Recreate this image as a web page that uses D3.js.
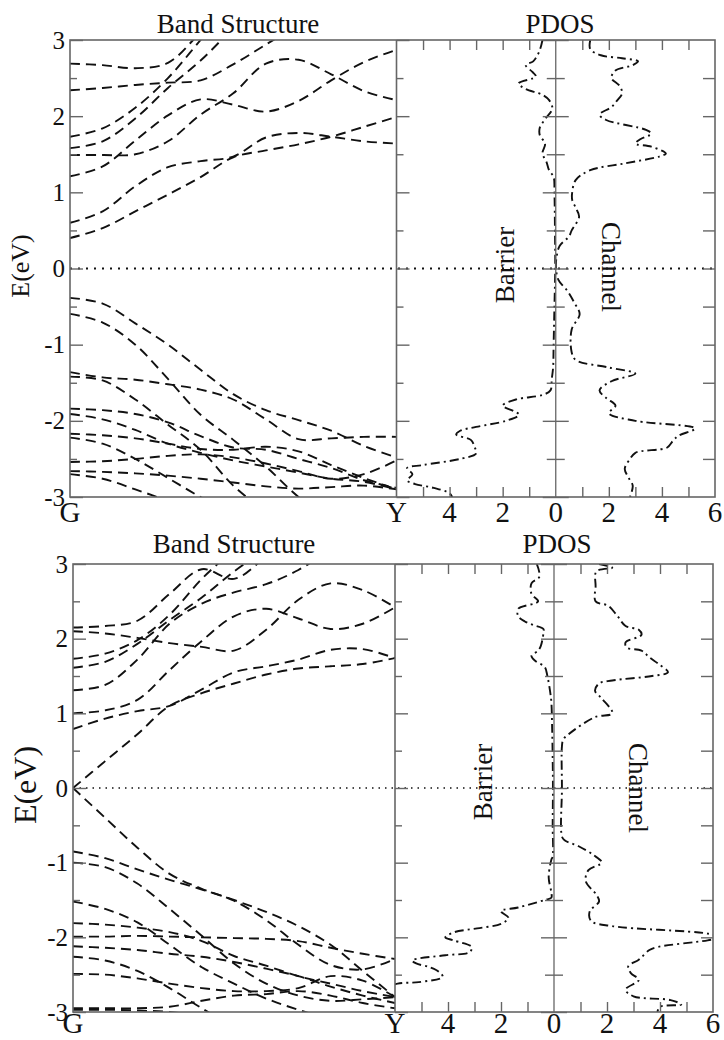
<!DOCTYPE html>
<html>
<head>
<meta charset="utf-8">
<title>Band Structure and PDOS</title>
<style>
  body{margin:0;background:#fff;}
  svg text{font-family:"Liberation Serif","DejaVu Serif","Times New Roman",serif !important;}
</style>
</head>
<body>
<div id="chart"></div>
<script src="https://d3js.org/d3.v7.min.js"></script>
<script>
// k points along G -> Y
const kGrid = [0, 0.1, 0.2, 0.3, 0.4, 0.5, 0.6, 0.7, 0.8, 0.9, 1.0];

// energies (eV) of each band at the k points, upper figure
const topBands = [
  [0.40, 0.53, 0.75, 0.97, 1.20, 1.46, 1.55, 1.63, 1.73, 1.86, 1.99],
  [0.60, 0.75, 1.08, 1.33, 1.41, 1.47, 1.72, 1.78, 1.73, 1.67, 1.64],
  [1.21, 1.34, 1.68, 2.01, 2.22, 2.15, 2.06, 2.20, 2.47, 2.71, 2.87],
  [1.49, 1.49, 1.50, 1.67, 2.02, 2.30, 2.69, 2.74, 2.55, 2.33, 2.21],
  [1.58, 1.67, 1.97, 2.37, 2.73, 3.15, 3.50],
  [1.73, 1.84, 2.11, 2.50, 3.00, 3.50],
  [2.34, 2.37, 2.41, 2.44, 2.47, 2.68, 2.94, 3.20],
  [2.69, 2.67, 2.63, 2.70, 3.10, 3.50],
  [-0.385, -0.46, -0.72, -1.00, -1.33, -1.65, -1.86, -1.99, -2.13, -2.33, -2.48],
  [-0.595, -0.71, -1.00, -1.45, -1.92, -2.25, -2.60, -3.00, -3.30],
  [-1.36, -1.43, -1.46, -1.52, -1.59, -1.72, -1.98, -2.24, -2.23, -2.21, -2.21],
  [-1.42, -1.47, -1.72, -2.05, -2.38, -2.85, -3.20],
  [-1.84, -1.86, -1.91, -2.02, -2.20, -2.35, -2.38, -2.50, -2.62, -2.78, -2.88],
  [-1.91, -1.98, -2.12, -2.30, -2.42, -2.52, -2.60, -2.68, -2.76, -2.80, -2.90],
  [-2.17, -2.19, -2.23, -2.30, -2.37, -2.38, -2.34, -2.40, -2.58, -2.75, -2.90],
  [-2.22, -2.30, -2.50, -2.75, -3.00, -3.20],
  [-2.54, -2.53, -2.50, -2.46, -2.44, -2.48, -2.56, -2.66, -2.76, -2.70, -2.52],
  [-2.66, -2.67, -2.69, -2.72, -2.76, -2.81, -2.86, -2.89, -2.87, -2.85, -2.90],
  [-2.70, -2.76, -2.90, -3.05, -3.20]
];

// lower figure
const bottomBands = [
  [0.00, 0.36, 0.72, 1.10, 1.27, 1.40, 1.52, 1.60, 1.63, 1.66, 1.74],
  [0.79, 0.93, 1.03, 1.10, 1.32, 1.55, 1.63, 1.72, 1.85, 1.86, 1.74],
  [1.00, 1.04, 1.18, 1.58, 1.97, 2.30, 2.40, 2.27, 2.13, 2.20, 2.42],
  [2.10, 2.07, 2.01, 1.94, 1.89, 1.84, 2.12, 2.52, 2.74, 2.65, 2.42],
  [2.15, 2.17, 2.24, 2.60, 2.93, 2.80, 3.10, 3.40],
  [1.73, 1.80, 1.98, 2.32, 2.80, 3.20, 3.60],
  [1.61, 1.69, 1.93, 2.25, 2.55, 2.90, 3.20],
  [1.31, 1.38, 1.72, 2.20, 2.47, 2.62, 2.73, 2.92, 3.20, 3.50],
  [0.00, -0.40, -0.80, -1.15, -1.35, -1.50, -1.66, -1.85, -2.10, -2.45, -2.80],
  [-0.85, -0.94, -1.09, -1.23, -1.36, -1.51, -1.77, -2.10, -2.37, -2.43, -2.29],
  [-1.00, -1.06, -1.28, -1.62, -1.98, -2.35, -2.62, -2.78, -2.85, -2.83, -2.80],
  [-1.52, -1.62, -1.80, -2.10, -2.40, -2.62, -2.82, -2.97, -3.10, -3.20],
  [-1.81, -1.83, -1.87, -1.93, -2.05, -2.25, -2.38, -2.52, -2.62, -2.72, -2.80],
  [-1.99, -1.99, -1.98, -1.99, -2.00, -2.01, -2.02, -2.05, -2.14, -2.22, -2.29],
  [-2.12, -2.14, -2.17, -2.22, -2.26, -2.33, -2.42, -2.52, -2.66, -2.78, -2.88],
  [-2.26, -2.31, -2.45, -2.68, -2.95, -3.20],
  [-2.49, -2.50, -2.55, -2.62, -2.68, -2.72, -2.72, -2.68, -2.52, -2.58, -2.80],
  [-2.95, -2.95, -2.95, -2.93, -2.85, -2.78, -2.76, -2.72, -2.78, -2.88, -2.95],
  [-2.97, -2.97, -2.98, -3.00, -3.05, -3.10]
];

// PDOS, pairs of [E (eV), states]
const topBarrier = [[3.0,0.5],[2.85,0.62],[2.72,0.85],[2.67,1.13],[2.58,0.88],[2.52,0.75],[2.43,1.4],[2.36,1.15],
  [2.28,0.5],[2.21,0.25],[2.1,0.13],[1.97,0.38],[1.85,0.6],[1.75,0.6],[1.64,0.4],[1.51,0.5],[1.4,0.35],[1.29,0.25],
  [1.2,0.08],[1.0,0.05],[0.5,0.03],[0,0.02],[-0.5,0.05],[-1.0,0.08],[-1.3,0.1],[-1.45,0.15],[-1.6,0.2],[-1.66,0.5],
  [-1.72,1.5],[-1.8,2.0],[-1.87,1.6],[-1.92,1.38],[-2.0,1.88],[-2.08,3.0],[-2.13,3.6],[-2.18,3.75],[-2.25,3.2],
  [-2.35,3.05],[-2.43,3.0],[-2.5,3.6],[-2.58,5.0],[-2.62,5.6],[-2.7,5.4],[-2.78,5.6],[-2.83,5.3],[-2.88,4.6],
  [-2.95,4.0],[-3.0,3.9]];
const topChannel = [[3.0,1.3],[2.88,1.3],[2.8,1.7],[2.76,2.5],[2.72,3.1],[2.67,2.9],[2.6,2.25],[2.5,2.1],[2.4,2.4],
  [2.3,2.5],[2.2,2.3],[2.12,2.1],[2.02,1.65],[1.95,1.9],[1.82,3.4],[1.77,3.6],[1.7,3.2],[1.64,3.0],[1.6,3.6],
  [1.51,4.15],[1.47,3.9],[1.38,2.6],[1.29,1.3],[1.16,0.75],[1.0,0.62],[0.9,0.62],[0.8,0.75],[0.68,0.88],[0.5,0.6],
  [0.42,0.5],[0.3,0.15],[0.15,0.03],[0,0.01],[-0.15,0.1],[-0.3,0.45],[-0.45,0.7],[-0.6,0.9],[-0.8,0.6],[-1.1,0.6],
  [-1.2,0.75],[-1.3,2.0],[-1.38,3.0],[-1.48,2.1],[-1.6,1.65],[-1.7,1.9],[-1.8,2.25],[-1.9,2.0],[-2.0,3.0],
  [-2.1,5.25],[-2.2,4.6],[-2.27,4.4],[-2.35,4.2],[-2.42,3.0],[-2.5,2.8],[-2.63,2.6],[-2.75,2.75],[-2.85,2.9],[-3.0,2.8]];
const bottomBarrier = [[3.0,0.65],[2.83,0.55],[2.74,0.85],[2.6,0.85],[2.5,0.6],[2.4,1.35],[2.3,1.35],[2.23,1.1],
  [2.18,0.77],[2.13,0.4],[2.07,0.4],[1.9,0.5],[1.84,0.6],[1.77,0.85],[1.7,0.7],[1.62,0.35],[1.5,0.25],[1.3,0.15],
  [1.15,0.1],[0.8,0.07],[0.4,0.05],[0,0.04],[-0.5,0.05],[-0.92,0.05],[-0.96,0.1],[-1.2,0.2],[-1.4,0.1],[-1.47,0.1],
  [-1.5,0.35],[-1.6,1.35],[-1.65,2.0],[-1.74,1.72],[-1.82,2.0],[-1.88,2.9],[-1.93,3.75],[-2.0,4.1],[-2.04,3.8],
  [-2.13,3.1],[-2.2,3.2],[-2.24,4.1],[-2.31,5.35],[-2.35,5.2],[-2.4,4.7],[-2.46,4.35],[-2.53,4.2],[-2.6,5.1],
  [-2.62,5.9],[-2.7,6.5],[-3.0,6.5]];
const bottomChannel = [[3.0,1.7],[2.95,2.2],[2.9,1.6],[2.7,1.57],[2.5,1.57],[2.44,2.05],[2.3,2.4],[2.17,2.7],
  [2.12,3.2],[2.05,3.3],[1.95,2.7],[1.88,2.75],[1.84,3.3],[1.75,3.6],[1.66,3.95],[1.55,4.3],[1.5,3.7],[1.44,2.2],
  [1.4,1.7],[1.3,1.55],[1.2,1.8],[1.0,2.2],[0.95,1.55],[0.72,0.55],[0.65,0.35],[0.56,0.3],[0,0.3],[-0.65,0.3],
  [-0.7,0.4],[-0.78,0.93],[-0.9,1.5],[-1.0,1.8],[-1.1,1.3],[-1.25,1.2],[-1.43,1.6],[-1.52,1.7],[-1.65,1.35],
  [-1.78,1.4],[-1.85,2.2],[-1.95,5.8],[-2.0,6.3],[-2.04,5.8],[-2.13,3.9],[-2.17,3.6],[-2.3,3.2],[-2.39,2.8],
  [-2.48,2.9],[-2.57,3.2],[-2.7,2.7],[-2.79,3.0],[-2.84,4.4],[-2.9,4.8],[-2.93,4.0],[-3.0,3.9]];

const eTicks = [-3, -2, -1, 0, 1, 2, 3];
const eMinor = [-2.5, -1.5, -0.5, 0.5, 1.5, 2.5];
const eAll = [-2.5, -2, -1.5, -1, -0.5, 0, 0.5, 1, 1.5, 2, 2.5];
const dosLabels = [-4, -2, 0, 2, 4, 6];
const dosMinor = [-5, -4, -3, -2, -1, 1, 2, 3, 4, 5];

const serif = 'Liberation Serif, DejaVu Serif, Times New Roman, serif';
const svg = d3.select('#chart').append('svg').attr('width', 724).attr('height', 1040)
  .attr('font-family', serif);

function panel(id, bands, barrier, channel, g) {
  var y = d3.scaleLinear().domain([-3, 3]).range([g.y1, g.y0]);
  var kx = d3.scaleLinear().domain([0, 1]).range([g.bx0, g.bx1]);
  var dx = d3.scaleLinear().domain([-6, 6]).range([g.bx1, g.px1]);

  var defs = svg.append('defs');
  defs.append('clipPath').attr('id', id + 'b').append('rect')
    .attr('x', g.bx0).attr('y', g.y0).attr('width', g.bx1 - g.bx0).attr('height', g.y1 - g.y0);
  defs.append('clipPath').attr('id', id + 'p').append('rect')
    .attr('x', g.bx1).attr('y', g.y0).attr('width', g.px1 - g.bx1).attr('height', g.y1 - g.y0);

  // bands
  var bandLine = d3.line().x((d, i) => kx(kGrid[i])).y(d => y(d)).curve(d3.curveCatmullRom.alpha(0.5));
  svg.append('g').attr('clip-path', 'url(#' + id + 'b)')
    .selectAll('path').data(bands).enter().append('path')
    .attr('d', bandLine).attr('fill', 'none').attr('stroke', '#111')
    .attr('stroke-width', 1.9).attr('stroke-dasharray', '10,6');

  // pdos
  var pg = svg.append('g').attr('clip-path', 'url(#' + id + 'p)');
  [[barrier, -1], [channel, 1]].forEach(function (s) {
    pg.append('path').datum(s[0])
      .attr('d', d3.line().x(d => dx(s[1] * d[1])).y(d => y(d[0])).curve(d3.curveCatmullRom))
      .attr('fill', 'none').attr('stroke', '#111').attr('stroke-width', 1.9)
      .attr('stroke-dasharray', '9,4,2,4');
  });

  // Fermi level
  svg.append('line').attr('x1', g.bx0).attr('x2', g.px1).attr('y1', y(0)).attr('y2', y(0))
    .attr('stroke', '#111').attr('stroke-width', g.dotW).attr('stroke-dasharray', g.dotDash);

  // frame
  var frame = svg.append('g').attr('stroke', '#666').attr('fill', 'none');
  frame.append('rect').attr('x', g.bx0).attr('y', g.y0).attr('width', g.px1 - g.bx0)
    .attr('height', g.y1 - g.y0).attr('stroke-width', 1.6);
  frame.append('line').attr('x1', g.bx1).attr('x2', g.bx1).attr('y1', g.y0).attr('y2', g.y1)
    .attr('stroke-width', 1.6);
  frame.append('line').attr('x1', dx(0)).attr('x2', dx(0)).attr('y1', g.y0).attr('y2', g.y1)
    .attr('stroke-width', 1.3);

  function axisG(tx, ty, axis) {
    var a = svg.append('g').attr('transform', 'translate(' + tx + ',' + ty + ')').call(axis);
    a.select('.domain').remove();
    a.attr('font-family', serif);
    a.selectAll('line').attr('stroke', '#666').attr('stroke-width', 1.4);
    return a;
  }

  // left energy axis
  var la = axisG(g.bx0, 0, d3.axisLeft(y).tickValues(eTicks).tickSize(-13).tickPadding(g.pad));
  la.attr('font-size', g.yFont);
  la.selectAll('text').attr('fill', '#111').text(d => d < 0 ? '-' + (-d) : d);
  axisG(g.bx0, 0, d3.axisLeft(y).tickValues(eMinor).tickSize(-7).tickFormat(''));

  // ticks on PDOS left border, zero line and right border
  axisG(g.bx1, 0, d3.axisRight(y).tickValues(eTicks).tickSize(13).tickFormat(''));
  axisG(g.bx1, 0, d3.axisRight(y).tickValues(eMinor).tickSize(7).tickFormat(''));
  axisG(dx(0) - 13, 0, d3.axisRight(y).tickValues(eTicks).tickSize(26).tickFormat(''));
  axisG(dx(0) - 9, 0, d3.axisRight(y).tickValues(eMinor).tickSize(18).tickFormat(''));
  axisG(g.px1, 0, d3.axisLeft(y).tickValues(eAll).tickSize(12).tickFormat(''));

  // PDOS horizontal ticks
  axisG(0, g.y0, d3.axisTop(dx).tickValues(dosMinor).tickSize(-10).tickFormat(''));
  axisG(0, g.y1, d3.axisBottom(dx).tickValues(dosMinor).tickSize(-10).tickFormat(''));

  var xl = svg.append('g').attr('font-size', g.xFont).attr('fill', '#111').attr('text-anchor', 'middle');
  xl.selectAll('text.d').data(dosLabels).enter().append('text').attr('class', 'd')
    .attr('x', d => dx(d)).attr('y', g.xlabY).text(d => Math.abs(d));
  xl.append('text').attr('x', kx(0)).attr('y', g.xlabY).text('G');
  xl.append('text').attr('x', kx(1)).attr('y', g.xlabY).text('Y');

  // titles and labels
  svg.append('text').attr('x', g.t1x).attr('y', g.titleY).attr('text-anchor', 'middle')
    .attr('font-size', 27).attr('fill', '#111').text('Band Structure');
  svg.append('text').attr('x', g.t2x).attr('y', g.titleY).attr('text-anchor', 'middle')
    .attr('font-size', 27).attr('fill', '#111').text('PDOS');
  svg.append('text').attr('transform', 'translate(' + g.eX + ',' + g.eY + ') rotate(-90)')
    .attr('text-anchor', 'middle').attr('dy', '0.35em').attr('font-size', g.eFont)
    .attr('fill', '#111').text('E(eV)');
  svg.append('text').attr('transform', 'translate(' + g.barX + ',' + g.barY + ') rotate(-90)')
    .attr('text-anchor', 'middle').attr('dy', '0.35em').attr('font-size', 27)
    .attr('fill', '#111').text('Barrier');
  svg.append('text').attr('transform', 'translate(' + g.chX + ',' + g.chY + ') rotate(90)')
    .attr('text-anchor', 'middle').attr('dy', '0.35em').attr('font-size', 27)
    .attr('fill', '#111').text('Channel');
}

panel('top', topBands, topBarrier, topChannel, {
  bx0: 70, bx1: 396.5, px1: 715, y0: 40, y1: 497,
  dotW: 2.2, dotDash: '2,6', pad: 5, yFont: 25, xFont: 29, xlabY: 522,
  titleY: 33, t1x: 238, t2x: 560, eX: 20, eY: 266, eFont: 26,
  barX: 505, barY: 265, chX: 611, chY: 267
});

panel('bot', bottomBands, bottomBarrier, bottomChannel, {
  bx0: 73, bx1: 395, px1: 713, y0: 564, y1: 1012,
  dotW: 1.4, dotDash: '1.5,5', pad: 5, yFont: 25, xFont: 29, xlabY: 1033,
  titleY: 553, t1x: 234, t2x: 557, eX: 25, eY: 785, eFont: 32,
  barX: 483, barY: 782, chX: 638, chY: 788
});
</script>
</body>
</html>
